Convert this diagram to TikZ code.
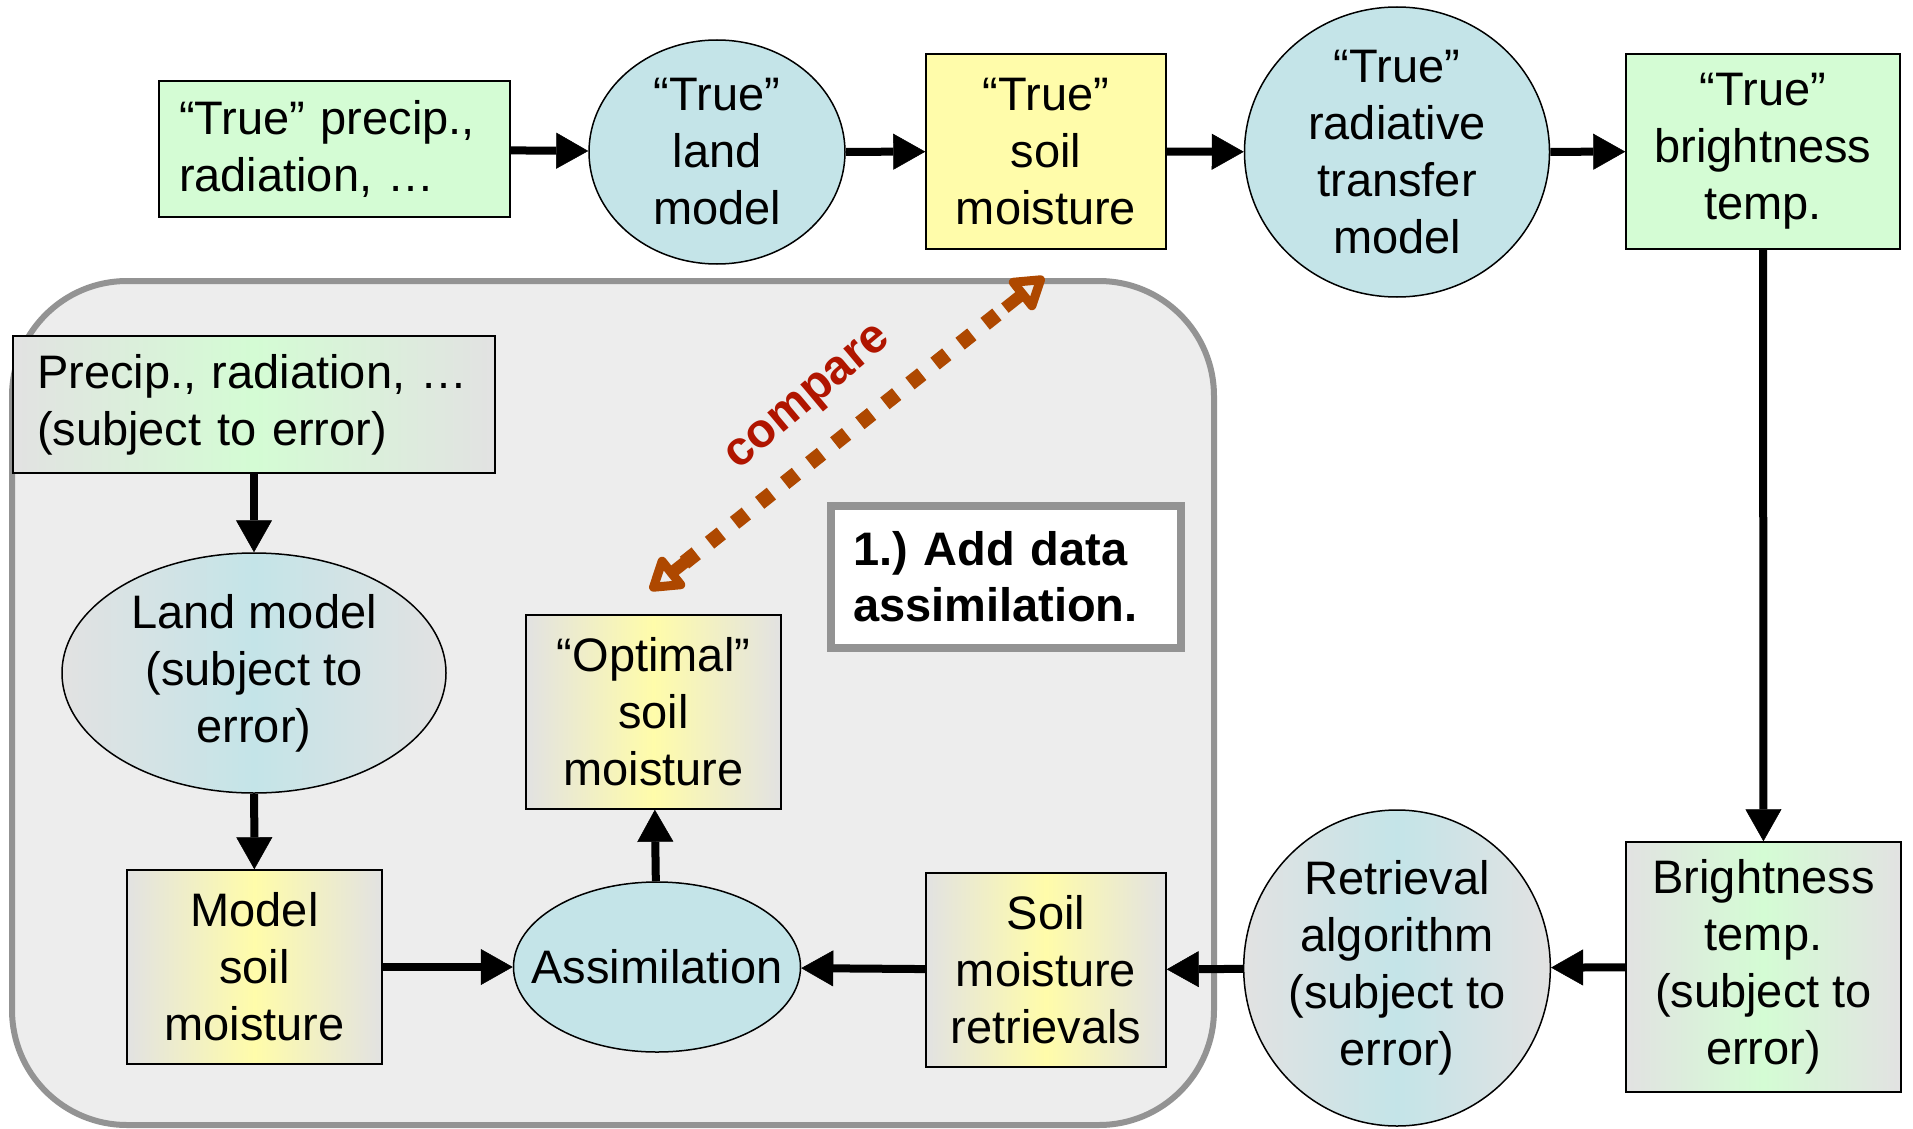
\documentclass[tikz,border=0pt]{standalone}
\usepackage{fontspec}
\setmainfont{Liberation Sans}
\usepackage{tikz}
\usetikzlibrary{shapes.geometric, arrows.meta, calc}
\definecolor{truegreen}{HTML}{D4FCD4}
\definecolor{truecyan}{HTML}{C4E4E8}
\definecolor{trueyellow}{HTML}{FFFCAA}
\definecolor{edgegray}{HTML}{E2E2E2}
\definecolor{framegray}{HTML}{939393}
\definecolor{panelgray}{HTML}{EDEDED}
\definecolor{cmpbrown}{HTML}{AE4800}
\definecolor{cmpred}{HTML}{B01500}

\begin{document}
\begin{tikzpicture}[x=1pt, y=-1pt,
        txt/.style={font=\fontsize{47}{57}\selectfont, align=center, inner sep=0pt},
        box/.style={txt, rectangle, draw, line width=1.5pt},
        oval/.style={txt, ellipse, draw, line width=1.5pt},
        fadegreen/.style={left color=edgegray, right color=edgegray, middle color=truegreen},
        fadecyan/.style={left color=edgegray, right color=edgegray, middle color=truecyan},
        fadeyellow/.style={left color=edgegray, right color=edgegray, middle color=trueyellow},
        flow/.style={-{Triangle[length=32pt, width=36pt, line width=0.5pt]}, line width=8pt},
        cmpline/.style={line width=15pt, draw=cmpbrown, dash pattern=on 15pt off 17pt, shorten <=44pt, shorten >=44pt},
        cmphead/.style={-{Triangle[open, round, length=36pt, width=44pt]}, line width=12pt, draw=cmpbrown, line join=round}]
            \useasboundingbox (0,0) rectangle (1913,1129);
            \node[rectangle, draw=framegray, fill=panelgray, line width=6pt, rounded corners=115pt, minimum width=1202pt, minimum height=844pt] (panel) at (613,703) {};

            \node[box, fill=truegreen, minimum height=136pt, text width=311pt, inner xsep=20pt, align=left] (tprecip) at (334.5,149) {“True” precip.,\\radiation, …};
            \node[oval, fill=truecyan, minimum width=256pt, minimum height=224pt] (tland) at (717,152) {“True”\\land\\model};
            \node[box, fill=trueyellow, minimum width=240pt, minimum height=195pt] (tsoil) at (1046,151.5) {“True”\\soil\\moisture};
            \node[oval, fill=truecyan, minimum width=305pt, minimum height=290pt] (trad) at (1397,152) {“True”\\radiative\\transfer\\model};
            \node[box, fill=truegreen, minimum width=274pt, minimum height=195pt] (tbright) at (1763,151.5) {“True”\\brightness\\temp.};

            \node[box, fadegreen, minimum height=137pt, text width=434pt, inner xsep=24pt, align=left] (precip) at (254,404.5) {Precip., radiation, …\\(subject to error)};
            \node[oval, fadecyan, minimum width=384pt, minimum height=240pt] (land) at (254,673) {Land model\\(subject to\\error)};
            \node[box, fadeyellow, minimum width=255pt, minimum height=194pt] (model) at (254.5,967) {Model\\soil\\moisture};
            \node[oval, fill=truecyan, minimum width=287pt, minimum height=170pt, inner xsep=-26pt] (assim) at (657,967) {Assimilation};
            \node[box, fadeyellow, minimum width=255pt, minimum height=194pt] (optimal) at (653.5,712) {“Optimal”\\soil\\moisture};
            \node[box, fadeyellow, minimum width=240pt, minimum height=194pt] (retr) at (1046,970) {Soil\\moisture\\retrievals};
            \node[oval, fadecyan, minimum width=305pt, minimum height=316pt] (ralg) at (1397,968) {Retrieval\\algorithm\\(subject to\\error)};
            \node[box, fadegreen, minimum width=275pt, minimum height=250pt] (bright) at (1763.5,967) {Brightness\\temp.\\(subject to\\error)};

            \node[txt, rectangle, draw=framegray, fill=white, line width=8pt, minimum height=142pt, text width=306pt, inner xsep=22pt, align=left, font=\fontsize{47}{56}\selectfont\bfseries] (adddata) at (1006,577) {1.)\ Add data\\assimilation.};

            \coordinate (cmplow) at (650,590);
            \coordinate (cmphigh) at (1044,277);
            \draw[cmpline] (cmplow) -- (cmphigh);
            \draw[cmphead] ($(cmplow)!50pt!(cmphigh)$) -- (cmplow);
            \draw[cmphead] ($(cmphigh)!50pt!(cmplow)$) -- (cmphigh);
            \node[txt, rotate=40, text=cmpred, font=\fontsize{48}{56}\selectfont\bfseries] (cmptext) at (810,400) {compare};

            \draw[flow] (tprecip) -- (tland);
            \draw[flow] (tland) -- (tsoil);
            \draw[flow] (tsoil) -- (trad);
            \draw[flow] (trad) -- (tbright);
            \draw[flow] (tbright) -- (bright);
            \draw[flow] (bright) -- (ralg);
            \draw[flow] (ralg) -- (retr);
            \draw[flow] (retr) -- (assim);
            \draw[flow] (model) -- (assim);
            \draw[flow] (assim) -- (optimal);
            \draw[flow] (precip) -- (land);
            \draw[flow] (land) -- (model);
        \end{tikzpicture}
\end{document}
